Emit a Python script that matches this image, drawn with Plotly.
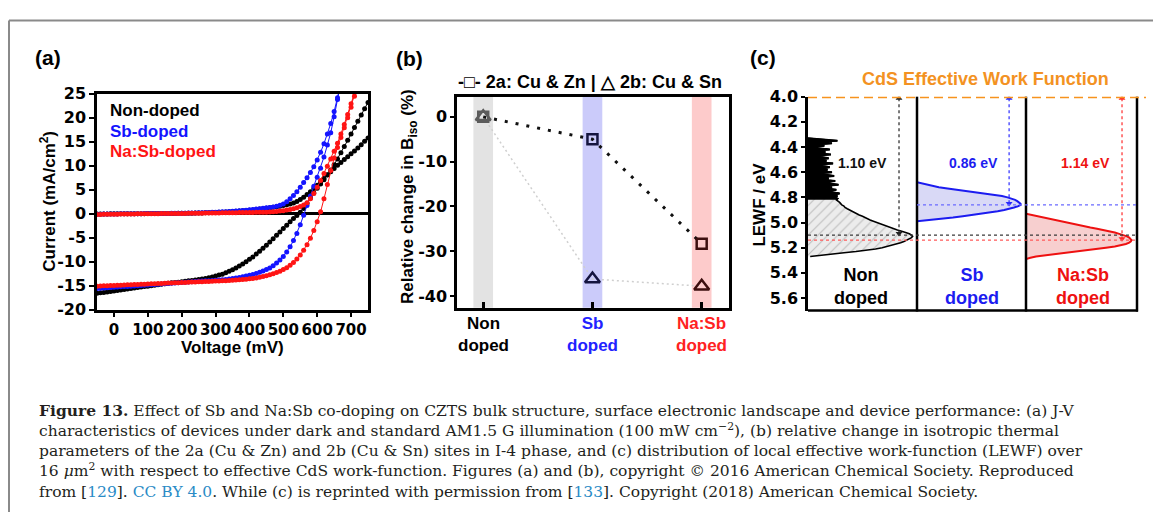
import plotly.graph_objects as go

FIG_W, FIG_H = 1153, 522


def fx(px):
    return px / FIG_W


def fy(py):
    return 1 - py / FIG_H


TEXT_FONT = "Liberation Sans"
TICK_FONT = "DejaVu Sans"
SERIF = "DejaVu Serif"

# ---------------- (a) J-V sweeps: voltage in mV, current in mA/cm2 ----------------
voltage_mv = [
    -50, -40, -30, -20, -10, 0, 10, 20, 30, 40,
    50, 60, 70, 80, 90, 100, 110, 120, 130, 140,
    150, 160, 170, 180, 190, 200, 210, 220, 230, 240,
    250, 260, 270, 280, 290, 300, 310, 320, 330, 340,
    350, 360, 370, 380, 390, 400, 410, 420, 430, 440,
    450, 460, 470, 480, 490, 500, 510, 520, 530, 540,
    550, 560, 570, 580, 590, 600, 610, 620, 630, 640,
    650, 660, 670, 680, 690, 700, 710, 720, 730, 740,
    750,
]

non_dark = [
    -0.05, -0.05, -0.04, -0.04, -0.03, -0.03, -0.02, -0.02, -0.01, -0.01,
    0.00, 0.00, 0.00, 0.01, 0.01, 0.02, 0.02, 0.03, 0.03, 0.04,
    0.04, 0.05, 0.06, 0.07, 0.08, 0.09, 0.10, 0.11, 0.12, 0.14,
    0.15, 0.17, 0.19, 0.21, 0.23, 0.26, 0.29, 0.32, 0.36, 0.40,
    0.44, 0.49, 0.54, 0.60, 0.66, 0.73, 0.80, 0.88, 0.96, 1.05,
    1.14, 1.24, 1.34, 1.45, 1.57, 1.70, 1.85, 2.02, 2.25, 2.55,
    2.95, 3.45, 4.00, 4.60, 5.25, 5.95, 6.65, 7.35, 8.05, 8.75,
    9.45, 10.10, 10.70, 11.30, 11.90, 12.50, 13.10, 13.70, 14.40, 15.10,
    15.80,
]
non_light = [
    -16.60, -16.50, -16.40, -16.30, -16.20, -16.10, -16.00, -15.90, -15.80, -15.70,
    -15.60, -15.50, -15.40, -15.30, -15.20, -15.10, -15.00, -14.90, -14.80, -14.70,
    -14.60, -14.50, -14.40, -14.35, -14.30, -14.20, -14.10, -14.00, -13.90, -13.80,
    -13.70, -13.60, -13.50, -13.35, -13.20, -13.00, -12.80, -12.60, -12.30, -12.00,
    -11.70, -11.30, -10.90, -10.50, -10.00, -9.50, -9.00, -8.40, -7.80, -7.20,
    -6.60, -5.90, -5.20, -4.50, -3.80, -3.10, -2.40, -1.70, -1.00, -0.35,
    0.30, 1.10, 2.20, 3.30, 4.30, 5.30, 6.20, 7.10, 8.10, 9.10,
    10.20, 11.40, 12.70, 14.00, 15.30, 16.60, 18.00, 19.30, 20.60, 21.90,
    23.20,
]
sb_dark = [
    -0.10, -0.09, -0.08, -0.07, -0.06, -0.05, -0.04, -0.03, -0.02, -0.01,
    0.00, 0.00, 0.01, 0.01, 0.02, 0.02, 0.03, 0.03, 0.04, 0.05,
    0.06, 0.07, 0.08, 0.09, 0.10, 0.11, 0.12, 0.13, 0.15, 0.17,
    0.19, 0.21, 0.23, 0.26, 0.29, 0.32, 0.35, 0.39, 0.43, 0.47,
    0.52, 0.57, 0.62, 0.68, 0.74, 0.81, 0.88, 0.96, 1.04, 1.13,
    1.22, 1.31, 1.40, 1.55, 1.75, 2.05, 2.50, 3.10, 3.80, 4.60,
    5.50, 6.50, 7.50, 8.60, 9.80, 11.20, 12.80, 14.60, 16.60, 18.80,
    21.30, 24.20, 27.20,
]
sb_light = [
    -15.60, -15.55, -15.50, -15.45, -15.40, -15.35, -15.30, -15.25, -15.20, -15.15,
    -15.10, -15.05, -15.00, -14.95, -14.90, -14.85, -14.80, -14.75, -14.70, -14.65,
    -14.60, -14.55, -14.50, -14.45, -14.40, -14.35, -14.30, -14.25, -14.20, -14.15,
    -14.10, -14.05, -14.00, -13.95, -13.90, -13.85, -13.80, -13.75, -13.70, -13.60,
    -13.50, -13.40, -13.30, -13.15, -13.00, -12.85, -12.65, -12.45, -12.20, -11.95,
    -11.65, -11.30, -10.85, -10.30, -9.65, -8.90, -8.00, -6.90, -5.60, -4.10,
    -2.30, -0.30, 1.70, 3.70, 5.70, 7.60, 9.50, 11.80, 14.30, 16.90,
    20.20, 23.80, 27.50,
]
nasb_dark = [
    -0.15, -0.14, -0.13, -0.12, -0.11, -0.10, -0.09, -0.08, -0.07, -0.06,
    -0.05, -0.04, -0.03, -0.02, -0.01, 0.00, 0.00, 0.01, 0.01, 0.02,
    0.02, 0.03, 0.03, 0.04, 0.05, 0.06, 0.07, 0.08, 0.09, 0.10,
    0.11, 0.12, 0.13, 0.14, 0.15, 0.16, 0.17, 0.18, 0.19, 0.20,
    0.21, 0.22, 0.23, 0.24, 0.25, 0.26, 0.27, 0.28, 0.29, 0.30,
    0.32, 0.35, 0.40, 0.46, 0.54, 0.64, 0.76, 0.90, 1.06, 1.25,
    1.48, 1.80, 2.30, 3.10, 4.20, 5.50, 6.90, 8.40, 9.90, 11.40,
    13.00, 14.70, 16.60, 18.60, 20.70, 22.90, 25.20,
]
nasb_light = [
    -15.10, -15.07, -15.04, -15.01, -14.98, -14.95, -14.92, -14.89, -14.86, -14.83,
    -14.80, -14.77, -14.74, -14.71, -14.68, -14.65, -14.62, -14.59, -14.56, -14.53,
    -14.50, -14.47, -14.44, -14.41, -14.38, -14.35, -14.32, -14.29, -14.26, -14.23,
    -14.20, -14.17, -14.14, -14.11, -14.08, -14.05, -14.02, -13.99, -13.96, -13.92,
    -13.88, -13.84, -13.79, -13.73, -13.66, -13.58, -13.49, -13.38, -13.25, -13.10,
    -12.92, -12.72, -12.50, -12.25, -11.97, -11.65, -11.25, -10.75, -10.15, -9.45,
    -8.60, -7.60, -6.45, -5.10, -3.50, -1.70, 0.40, 3.10, 6.10, 9.00,
    11.60, 13.80, 15.90, 17.90, 20.00, 22.20, 24.50, 26.90,
]

jv_x_ticks = [0, 100, 200, 300, 400, 500, 600, 700]
jv_y_ticks = [-20, -15, -10, -5, 0, 5, 10, 15, 20, 25]
jv_legend = ["Non-doped", "Sb-doped", "Na:Sb-doped"]

# ---------------- (b) relative change in B_iso (%) ----------------
sample_labels = ["Non<br>doped", "Sb<br>doped", "Na:Sb<br>doped"]
site_2a = [0.0, -5.0, -28.3]      # 2a: Cu & Zn
site_2b = [0.0, -36.2, -37.8]     # 2b: Cu & Sn
biso_y_ticks = [-40, -30, -20, -10, 0]

# ---------------- (c) LEWF distributions (eV vs. normalised count) ----------------
cds_wf = 4.0
lewf_gap = [1.10, 0.86, 1.14]     # Non, Sb, Na:Sb offsets from CdS work function

non_lewf = [
    4.33, 4.34, 4.35, 4.36, 4.37, 4.38, 4.39, 4.40, 4.41, 4.42,
    4.43, 4.44, 4.45, 4.46, 4.47, 4.48, 4.49, 4.50, 4.51, 4.52,
    4.53, 4.54, 4.55, 4.56, 4.57, 4.58, 4.59, 4.60, 4.61, 4.62,
    4.63, 4.64, 4.65, 4.66, 4.67, 4.68, 4.69, 4.70, 4.71, 4.72,
    4.73, 4.74, 4.75, 4.76, 4.77, 4.78, 4.79, 4.80, 4.81, 4.82,
    4.83, 4.84, 4.85, 4.86, 4.87, 4.88, 4.89, 4.90, 4.91, 4.92,
    4.93, 4.94, 4.95, 4.96, 4.97, 4.98, 4.99, 5.00, 5.01, 5.02,
    5.03, 5.04, 5.05, 5.06, 5.07, 5.08, 5.09, 5.10, 5.11, 5.12,
    5.13, 5.14, 5.15, 5.16, 5.17, 5.18, 5.19, 5.20, 5.21, 5.22,
    5.23, 5.24, 5.25, 5.26, 5.27,
]
non_count = [
    0.00, 0.18, 0.27, 0.05, 0.22, 0.08, 0.15, 0.04, 0.12, 0.20,
    0.06, 0.16, 0.09, 0.21, 0.05, 0.14, 0.19, 0.07, 0.17, 0.10,
    0.23, 0.06, 0.15, 0.20, 0.08, 0.18, 0.11, 0.22, 0.09, 0.16,
    0.24, 0.10, 0.19, 0.13, 0.25, 0.12, 0.20, 0.28, 0.14, 0.22,
    0.17, 0.26, 0.19, 0.24, 0.29, 0.22, 0.27, 0.24, 0.27, 0.26,
    0.28, 0.29, 0.30, 0.31, 0.33, 0.34, 0.36, 0.38, 0.40, 0.42,
    0.44, 0.47, 0.50, 0.52, 0.55, 0.57, 0.60, 0.63, 0.66, 0.69,
    0.72, 0.75, 0.78, 0.82, 0.86, 0.90, 0.93, 0.95, 0.96, 0.95,
    0.93, 0.91, 0.88, 0.85, 0.81, 0.77, 0.73, 0.68, 0.62, 0.54,
    0.44, 0.33, 0.22, 0.10, 0.02,
]
# rows of the non-doped map shown as the dense noisy band (LEWF below 4.83 eV)
non_noisy_rows = 50

sb_lewf = [
    4.68, 4.69, 4.70, 4.71, 4.72, 4.73, 4.74, 4.75, 4.76, 4.77,
    4.78, 4.79, 4.80, 4.81, 4.82, 4.83, 4.84, 4.85, 4.86, 4.87,
    4.88, 4.89, 4.90, 4.91, 4.92, 4.93, 4.94, 4.95, 4.96, 4.97,
    4.98, 4.99,
]
sb_count = [
    0.00, 0.05, 0.08, 0.12, 0.20, 0.28, 0.37, 0.46, 0.55, 0.64,
    0.72, 0.78, 0.83, 0.87, 0.90, 0.92, 0.94, 0.95, 0.95, 0.93,
    0.89, 0.85, 0.80, 0.74, 0.67, 0.59, 0.51, 0.42, 0.33, 0.22,
    0.10, 0.00,
]
nasb_lewf = [
    4.93, 4.94, 4.95, 4.96, 4.97, 4.98, 4.99, 5.00, 5.01, 5.02,
    5.03, 5.04, 5.05, 5.06, 5.07, 5.08, 5.09, 5.10, 5.11, 5.12,
    5.13, 5.14, 5.15, 5.16, 5.17, 5.18, 5.19, 5.20, 5.21, 5.22,
    5.23, 5.24, 5.25, 5.26, 5.27, 5.28, 5.29,
]
nasb_count = [
    0.00, 0.05, 0.10, 0.15, 0.20, 0.25, 0.30, 0.35, 0.40, 0.46,
    0.52, 0.58, 0.64, 0.70, 0.75, 0.80, 0.84, 0.88, 0.91, 0.93,
    0.945, 0.95, 0.945, 0.93, 0.90, 0.86, 0.80, 0.72, 0.63, 0.53,
    0.43, 0.33, 0.24, 0.16, 0.09, 0.04, 0.00,
]
lewf_ticks = [4.0, 4.2, 4.4, 4.6, 4.8, 5.0, 5.2, 5.4, 5.6]

BLACK = "#000000"
BLUE = "#1414ff"
RED = "#ff1414"

fig = go.Figure()

# ---- (a) J-V curves: dark and illuminated sweep for each sample ----
for cur, color in [
    (non_dark, BLACK), (non_light, BLACK),
    (sb_dark, BLUE), (sb_light, BLUE),
    (nasb_dark, RED), (nasb_light, RED),
]:
    fig.add_trace(go.Scatter(
        x=voltage_mv[:len(cur)], y=cur, mode="lines+markers",
        line=dict(color=color, width=1),
        marker=dict(color=color, size=5),
        xaxis="x", yaxis="y", showlegend=False, hoverinfo="skip",
    ))

# ---- (b) B_iso relative change ----
sample_pos = [0, 1, 2]
marker_cols = ["#5c5c5c", "#15153f", "#3d0f0f"]
fig.add_trace(go.Scatter(
    x=sample_pos, y=site_2b, mode="lines",
    line=dict(color="#cfcfcf", width=1.5, dash="2px,3px"),
    xaxis="x2", yaxis="y2", showlegend=False, hoverinfo="skip",
))
fig.add_trace(go.Scatter(
    x=sample_pos, y=site_2a, mode="lines",
    line=dict(color="#111111", width=3, dash="3px,8px"),
    xaxis="x2", yaxis="y2", showlegend=False, hoverinfo="skip",
))
fig.add_trace(go.Scatter(
    x=sample_pos, y=site_2a, mode="markers",
    marker=dict(symbol="square-open", size=10, color=marker_cols, line=dict(width=2.5)),
    xaxis="x2", yaxis="y2", showlegend=False, hoverinfo="skip",
))
fig.add_trace(go.Scatter(
    x=sample_pos, y=site_2b, mode="markers",
    marker=dict(symbol="triangle-up-open", size=13, color=marker_cols, line=dict(width=2.5)),
    xaxis="x2", yaxis="y2", showlegend=False, hoverinfo="skip",
))

# ---- (c) LEWF distributions, one sub-panel per sample ----
fig.add_trace(go.Scatter(
    x=non_count, y=non_lewf, mode="lines", fill="tozerox",
    fillcolor="#e6e6e6",
    fillpattern=dict(shape="/", fgcolor="#8c8c8c", bgcolor="#ececec", size=7, solidity=0.15),
    line=dict(color="#000000", width=1.6),
    xaxis="x3", yaxis="y3", showlegend=False, hoverinfo="skip",
))
# dense noisy low-work-function tail of the non-doped map
fig.add_trace(go.Scatter(
    x=non_count[:non_noisy_rows], y=non_lewf[:non_noisy_rows], mode="lines", fill="tozerox",
    fillcolor="#000000", line=dict(color="#000000", width=2),
    xaxis="x3", yaxis="y3", showlegend=False, hoverinfo="skip",
))
fig.add_trace(go.Scatter(
    x=sb_count, y=sb_lewf, mode="lines", fill="tozerox",
    fillcolor="#d9d9f6", line=dict(color="#1c1cf0", width=2),
    xaxis="x4", yaxis="y3", showlegend=False, hoverinfo="skip",
))
fig.add_trace(go.Scatter(
    x=nasb_count, y=nasb_lewf, mode="lines", fill="tozerox",
    fillcolor="#f7cfcf", line=dict(color="#ee1111", width=2),
    xaxis="x5", yaxis="y3", showlegend=False, hoverinfo="skip",
))

# offset arrows from the CdS work function down to each distribution peak
arrow_x = [0.835, 0.845, 0.865]
arrow_cols = ["#222222", "#2a2aff", "#ff2a2a"]
for gap, ax_name, xpos, col in zip(lewf_gap, ["x3", "x4", "x5"], arrow_x, arrow_cols):
    fig.add_trace(go.Scatter(
        x=[xpos, xpos], y=[cds_wf + 0.012, cds_wf + gap - 0.012], mode="lines+markers",
        line=dict(color=col, width=1.2, dash="dot"),
        marker=dict(symbol=["triangle-up", "triangle-down"], size=6, color=col),
        xaxis=ax_name, yaxis="y3", showlegend=False, hoverinfo="skip",
    ))

axis_line = dict(showline=True, linecolor="#000000", linewidth=2.5, showgrid=False,
                 zeroline=False, ticks="outside", ticklen=5, tickwidth=2, tickcolor="#000000")
tick_font = dict(family=TICK_FONT, size=16, color="#000000", weight="bold")

fig.update_layout(
    width=FIG_W, height=FIG_H,
    margin=dict(l=0, r=0, t=0, b=0),
    paper_bgcolor="#ffffff", plot_bgcolor="#ffffff",
    showlegend=False,
    xaxis=dict(domain=[fx(97), fx(368)], range=[-50, 750], anchor="y", mirror=True,
               tickvals=jv_x_ticks, ticktext=[str(v) for v in jv_x_ticks], tickangle=0,
               tickfont=dict(family=TICK_FONT, size=15, color="#000000", weight="bold"),
               **axis_line),
    yaxis=dict(domain=[fy(312), fy(88)], range=[-20, 25], anchor="x", mirror=True,
               tickvals=jv_y_ticks, ticktext=[str(v) for v in jv_y_ticks],
               tickfont=tick_font, **{**axis_line, "zeroline": True},
               zerolinecolor="#000000", zerolinewidth=2.5),
    xaxis2=dict(domain=[fx(457), fx(729)], range=[-0.24, 2.25], anchor="y2", mirror=True,
                tickvals=sample_pos, showticklabels=False,
                **{**axis_line, "ticks": "inside", "ticklen": 6, "tickwidth": 2.5}),
    yaxis2=dict(domain=[fy(310), fy(91)], range=[-42.6, 4.5], anchor="x2", mirror=True,
                tickvals=biso_y_ticks, ticktext=[str(v) for v in biso_y_ticks],
                tickfont=tick_font, **{**axis_line, "ticklen": 4}),
    xaxis3=dict(domain=[fx(808), fx(917)], range=[0, 1], anchor="y3", visible=False),
    xaxis4=dict(domain=[fx(917), fx(1026)], range=[0, 1], anchor="y3", visible=False),
    xaxis5=dict(domain=[fx(1026), fx(1137)], range=[0, 1], anchor="y3", visible=False),
    yaxis3=dict(domain=[fy(313), fy(91)], range=[5.7, 4.0], anchor="x3",
                tickvals=lewf_ticks, ticktext=[f"{v:.1f}" for v in lewf_ticks],
                tickfont=tick_font, **{**axis_line, "ticklen": 4}),
)

# ---- (b) shaded sample bands ----
for pos, col in zip(sample_pos, ["#e3e3e3", "#cbcbfa", "#fdcbcb"]):
    fig.add_shape(type="rect", xref="x2", yref="y2 domain", x0=pos - 0.09, x1=pos + 0.09,
                  y0=0, y1=1, fillcolor=col, line=dict(width=0), layer="below")

# ---- (c) frame lines, reference levels ----
for xp in [917, 1026, 1137]:
    fig.add_shape(type="line", xref="paper", yref="paper", x0=fx(xp), x1=fx(xp),
                  y0=fy(314), y1=fy(91), line=dict(color="#000000", width=2.5))
fig.add_shape(type="line", xref="paper", yref="paper", x0=fx(808), x1=fx(1138),
              y0=fy(313), y1=fy(313), line=dict(color="#000000", width=2.5))

level_specs = [
    (cds_wf + lewf_gap[0], 808, "#3a3a3a"),
    (cds_wf + lewf_gap[2], 808, "#ff5a5a"),
    (cds_wf + lewf_gap[1], 917, "#6a6aff"),
]
for lvl, x_start, col in level_specs:
    fig.add_shape(type="line", xref="paper", yref="y3", x0=fx(x_start), x1=fx(1137),
                  y0=lvl, y1=lvl, line=dict(color=col, width=1.2, dash="dot"))

fig.add_shape(type="line", xref="paper", yref="y3", x0=fx(808), x1=fx(1146),
              y0=cds_wf, y1=cds_wf, line=dict(color="#f7931e", width=3, dash="9px,5px"))

# ---- outer figure frame ----
fig.add_shape(type="line", xref="paper", yref="paper", x0=fx(9), x1=1, y0=fy(12), y1=fy(12),
              line=dict(color="#8a8a8a", width=2))
fig.add_shape(type="line", xref="paper", yref="paper", x0=fx(9), x1=fx(9), y0=0, y1=fy(12),
              line=dict(color="#8a8a8a", width=2))


def label(text, x, y, size=17, color="#000000", family=TEXT_FONT, weight="bold",
          angle=0, xanchor="center", yanchor="middle", align="center"):
    fig.add_annotation(text=text, x=fx(x), y=fy(y), xref="paper", yref="paper",
                       showarrow=False, textangle=angle, xanchor=xanchor, yanchor=yanchor,
                       align=align,
                       font=dict(family=family, size=size, color=color, weight=weight))


# panel letters
label("(a)", 48, 50, size=21)
label("(b)", 410, 51, size=21)
label("(c)", 763, 50, size=21)

# (a) legend and axis titles
for txt, col, yy in zip(jv_legend, [BLACK, BLUE, RED], [105, 127, 148]):
    label(txt, 108, yy, size=17, color=col, xanchor="left")
label("Current (mA/cm<sup>2</sup>)", 48, 200, size=17, angle=-90)
label("Voltage (mV)", 232, 351, size=17)

# (b) legend, axis title and sample labels
label("-\u25a1- 2a: Cu &amp; Zn | \u25b3 2b: Cu &amp; Sn", 590, 76, size=18)
label("Relative change in B<sub>iso</sub> (%)", 409, 195, size=17, angle=-90)
for pos, txt, col in zip(sample_pos, sample_labels, [BLACK, "#2222ff", "#ff2222"]):
    label(txt, 483.2 + pos * 109.2, 338, size=17, color=col)

# (c) titles and labels
label("CdS Effective Work Function", 985, 73, size=18, color="#f39222")
label("LEWF / eV", 760, 203, size=17, angle=-90)
for txt, col, xx in zip([f"{g:.2f} eV" for g in lewf_gap], ["#111111", "#1c1cf0", "#ee1111"],
                        [862, 973, 1085]):
    label(txt, xx, 160, size=14, color=col)
for txt, col, xx in zip(sample_labels, [BLACK, "#1c1cf0", "#ee1111"], [861, 972, 1083]):
    label(txt, xx, 288, size=18, color=col)

# caption (one multi-line block)
LINK = "#2a8bc6"
caption_lines = [
    "<b>Figure 13.</b> Effect of Sb and Na:Sb co-doping on CZTS bulk structure, surface electronic "
    "landscape and device performance: (a) J-V",
    "characteristics of devices under dark and standard AM1.5 G illumination (100 mW cm<sup>\u22122</sup>), "
    "(b) relative change in isotropic thermal",
    "parameters of the 2a (Cu &amp; Zn) and 2b (Cu &amp; Sn) sites in I-4 phase, and (c) distribution of "
    "local effective work-function (LEWF) over",
    "16 <i>\u03bc</i>m<sup>2</sup> with respect to effective CdS work-function. Figures (a) and (b), "
    "copyright \u00a9 2016 American Chemical Society. Reproduced",
    f"from [<span style='color:{LINK}'>129</span>]. <span style='color:{LINK}'>CC BY 4.0</span>. "
    f"While (c) is reprinted with permission from [<span style='color:{LINK}'>133</span>]. "
    "Copyright (2018) American Chemical Society.",
]
label("<br>".join(caption_lines), 37, 459, size=15.5, color="#231f20", family=SERIF,
      weight="normal", xanchor="left", align="left")

fig.write_html("out.html")
